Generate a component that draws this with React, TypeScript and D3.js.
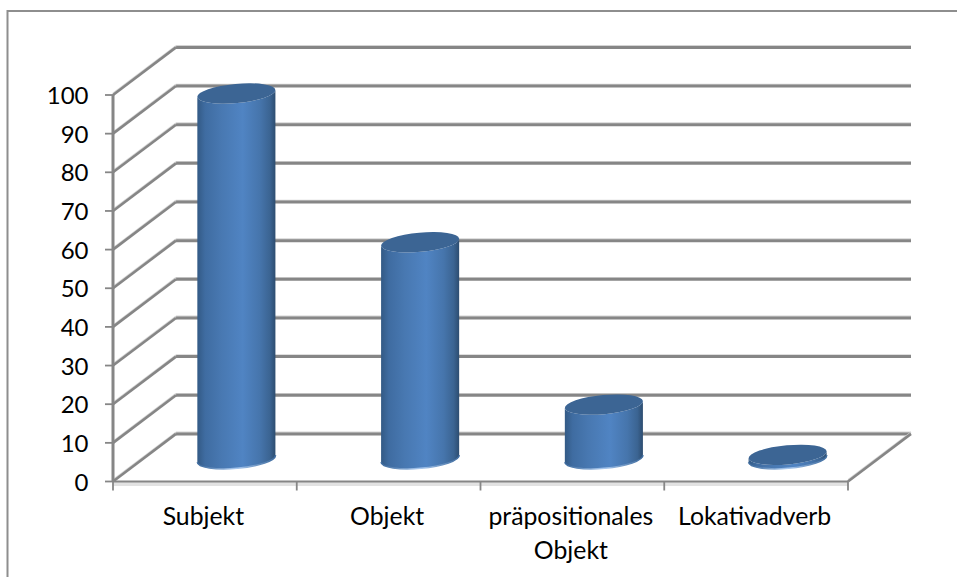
import React from "react";
import * as d3 from "d3";

// Share of each syntactic function
const categories = ["Subjekt", "Objekt", "präpositionales Objekt", "Lokativadverb"];
const values = [94.5, 56, 14, 1];
const yTicks = [0, 10, 20, 30, 40, 50, 60, 70, 80, 90, 100];

const W = 957;
const H = 577;
const depthX = 63;
const depthY = -47.6;
const x0 = 113;
const x1 = 848;
const y0 = 481.5;
const y100 = 95;
const barHalf = 39.2;
const ry = 9.6;
const tilt = 5.2;
const grey = "#868686";
const font = "Lato, Carlito, 'Open Sans', sans-serif";

const yScale = d3.scaleLinear().domain([0, 100]).range([y0, y100]);
const xScale = d3.scaleBand<string>().domain(categories).range([x0, x1]);

const labelLines: string[][] = [["Subjekt"], ["Objekt"], ["präpositionales", "Objekt"], ["Lokativadverb"]];

function GridLine(p: { x1: number; y1: number; x2: number; y2: number; w?: number }) {
  return (
    <g>
      <line x1={p.x1} y1={p.y1 - 1.6} x2={p.x2} y2={p.y2 - 1.6} stroke="#d4d4d4" strokeWidth={1.5} />
      <line x1={p.x1} y1={p.y1} x2={p.x2} y2={p.y2} stroke={grey} strokeWidth={p.w ?? 3} />
    </g>
  );
}

function Cylinder({ cx, value }: { cx: number; value: number }) {
  const baseY = yScale(0) + depthY / 2 + 1;
  const topY = baseY - (yScale(0) - yScale(value));
  const rad = (tilt * Math.PI) / 180;
  const dx = barHalf * Math.cos(rad);
  const dy = barHalf * Math.sin(rad);
  const side =
    `M${cx - dx},${topY + dy} L${cx - dx},${baseY + dy} ` +
    `A${barHalf},${ry} ${-tilt} 0 0 ${cx + dx},${baseY - dy} ` +
    `L${cx + dx},${topY - dy} ` +
    `A${barHalf},${ry} ${-tilt} 0 1 ${cx - dx},${topY + dy} Z`;
  const rim =
    `M${cx - dx},${baseY + dy} A${barHalf},${ry} ${-tilt} 0 0 ${cx + dx},${baseY - dy}`;
  return (
    <g>
      <path d={side} fill="url(#cylinderSide)" />
      <path d={rim} fill="none" stroke="url(#cylinderRim)" strokeWidth={1.6} />
      <ellipse
        cx={cx}
        cy={topY}
        rx={barHalf}
        ry={ry}
        fill="#3c6594"
        transform={`rotate(${-tilt} ${cx} ${topY})`}
      />
    </g>
  );
}

export default function App() {
  const band = xScale.bandwidth();
  return (
    <svg
      width={W}
      height={H}
      viewBox={`0 0 ${W} ${H}`}
      style={{ position: "absolute", left: 0, top: 0, background: "#fff" }}
      fontFamily={font}
    >
      <defs>
        <linearGradient id="cylinderSide" x1="0" x2="1" y1="0" y2="0">
          <stop offset="0" stopColor="#335a85" />
          <stop offset="0.1" stopColor="#3f6ca1" />
          <stop offset="0.3" stopColor="#4878b1" />
          <stop offset="0.58" stopColor="#5084c3" />
          <stop offset="0.8" stopColor="#4675ac" />
          <stop offset="0.93" stopColor="#3b6492" />
          <stop offset="1" stopColor="#2d4d70" />
        </linearGradient>
        <linearGradient id="cylinderRim" x1="0" x2="1" y1="0" y2="0">
          <stop offset="0" stopColor="#3c6a9e" />
          <stop offset="0.5" stopColor="#a9c8ee" />
          <stop offset="1" stopColor="#3c6a9e" />
        </linearGradient>
      </defs>

      {/* chart frame: open on the right and bottom edges */}
      <path d={`M7.5,${H} V11 H${W}`} fill="none" stroke="#8e8e8e" strokeWidth={2} />

      {/* back wall and side wall */}
      {yTicks.map((t) => (
        <g key={t}>
          <GridLine x1={x0 + depthX} y1={yScale(t) + depthY} x2={x1 + depthX} y2={yScale(t) + depthY} />
          <GridLine x1={x0} y1={yScale(t)} x2={x0 + depthX} y2={yScale(t) + depthY} w={2.6} />
          <line x1={x0 - 8} x2={x0} y1={yScale(t)} y2={yScale(t)} stroke={grey} strokeWidth={1.8} />
          <text
            x={88.5}
            y={yScale(t)}
            dy="0.38em"
            textAnchor="end"
            fontSize={24}
            fill="#000"
          >
            {t}
          </text>
        </g>
      ))}

      {/* floor */}
      <rect x={x0} y={y0} width={x1 - x0} height={4.5} fill="#e2e2e2" />
      <GridLine x1={x1} y1={y0} x2={x1 + depthX} y2={y0 + depthY} w={2.6} />
      <line x1={x0} x2={x1} y1={y0} y2={y0} stroke={grey} strokeWidth={2} />
      <line x1={x0} x2={x0} y1={yScale(100)} y2={y0} stroke={grey} strokeWidth={3} />
      {[...categories.map((c) => xScale(c) as number), x1].map((tx) => (
        <line key={tx} x1={tx} x2={tx} y1={y0} y2={y0 + 9} stroke={grey} strokeWidth={1.8} />
      ))}

      {/* one cylinder per category, standing mid-depth on the floor */}
      {categories.map((c, i) => (
        <Cylinder key={c} cx={(xScale(c) as number) + band / 2 + depthX / 2} value={values[i]} />
      ))}

      {/* category labels */}
      {categories.map((c, i) => (
        <text key={c} textAnchor="middle" fontSize={24.8} fill="#000">
          {labelLines[i].map((line, j) => (
            <tspan key={line} x={(xScale(c) as number) + band / 2 - 1.5} y={525 + j * 33.5}>
              {line}
            </tspan>
          ))}
        </text>
      ))}
    </svg>
  );
}
